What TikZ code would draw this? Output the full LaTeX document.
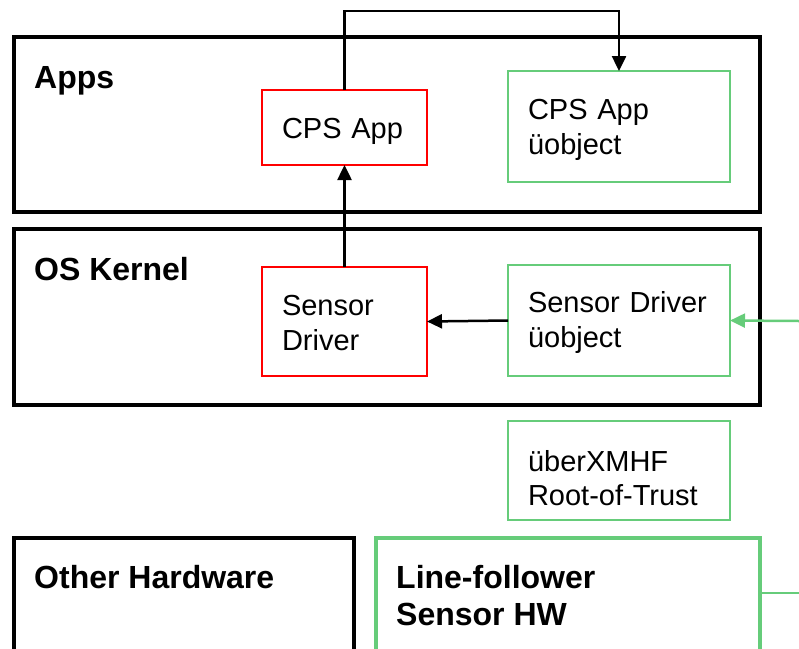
\documentclass[tikz,border=0pt]{standalone}
\usepackage{fontspec}
\setmainfont{Liberation Sans}
\usetikzlibrary{arrows.meta}
\definecolor{trustgreen}{HTML}{66CC7A}
\begin{document}
\begin{tikzpicture}[x=1pt,y=-1pt,
  layer/.style={draw=black,line width=4pt,anchor=north west,inner sep=0pt,outer sep=0pt},
  hwlayer/.style={draw=trustgreen,line width=4pt,anchor=north west,inner sep=0pt,outer sep=0pt},
  layerlabel/.style={anchor=base west,inner sep=0pt,align=left,
    font=\bfseries\fontsize{32}{37}\selectfont},
  compbox/.style={line width=2pt,inner xsep=20pt,inner ysep=0pt,align=left,outer sep=0pt,
    font=\fontsize{29}{35}\selectfont},
  % first-line strut height, used to place the text block inside its box
  toprule/.style={execute at begin node={\rule{0pt}{#1}}},
  untrusted/.style={compbox,draw=red},
  trusted/.style={compbox,draw=trustgreen},
  conn/.style={draw=black,line width=2.5pt,-{Triangle[length=15pt,width=14pt]}},
  gconn/.style={draw=trustgreen,line width=2.5pt,-{Triangle[length=15pt,width=14pt]}}]
\useasboundingbox (0,0) rectangle (799,648);
\clip (0,0) rectangle (799,648);

% software and hardware layers
\node[layer,minimum width=746pt,minimum height=175pt] (apps) at (14,37) {};
\node[layerlabel] (appslbl) at (34,88) {Apps};
\node[layer,minimum width=746pt,minimum height=176pt] (kernel) at (14,229) {};
\node[layerlabel] (kernellbl) at (34,280) {OS Kernel};
\node[layer,minimum width=340pt,minimum height=160pt] (otherhw) at (14,538) {};
\node[layerlabel] (otherhwlbl) at (34,588) {Other Hardware};
\node[hwlayer,minimum width=384pt,minimum height=160pt] (sensorhw) at (376,538) {};
\node[layerlabel] (sensorhwlbl) at (396,625) {Line-follower\\Sensor HW};

% components
\node[untrusted,toprule=29pt,minimum width=165pt,minimum height=75pt,text width=125pt] (cpsapp) at (344.5,127.5) {CPS App};
\node[trusted,toprule=28pt,minimum width=222pt,minimum height=111pt,text width=182pt] (cpsobj) at (619,126.5) {CPS App\\üobject};
\node[untrusted,toprule=23pt,minimum width=165pt,minimum height=109pt,text width=125pt] (sensordrv) at (344.5,321.5) {Sensor\\Driver};
\node[trusted,toprule=25pt,minimum width=222pt,minimum height=111pt,text width=182pt] (sensorobj) at (619,320.5) {Sensor Driver\\üobject};
\node[trusted,toprule=37pt,minimum width=222pt,minimum height=99pt,text width=182pt,
  font=\fontsize{29}{34}\selectfont] (rot) at (619,470.5) {überXMHF\\Root-of-Trust};

% connectors
\coordinate (sensorin) at (799,321);
\coordinate (hwport) at (760,593);
\coordinate (hwout) at (799,593);
\draw[conn] (cpsapp.north) -- ++(0,-79) -| (cpsobj.north);
\draw[conn] (sensordrv.north) -- (cpsapp.south);
\draw[conn] (sensorobj.west) -- (sensordrv.east);
\draw[gconn] (sensorin) -- (sensorobj.east);
\draw[draw=trustgreen,line width=2.5pt] (hwport) -- (hwout);
\end{tikzpicture}
\end{document}
